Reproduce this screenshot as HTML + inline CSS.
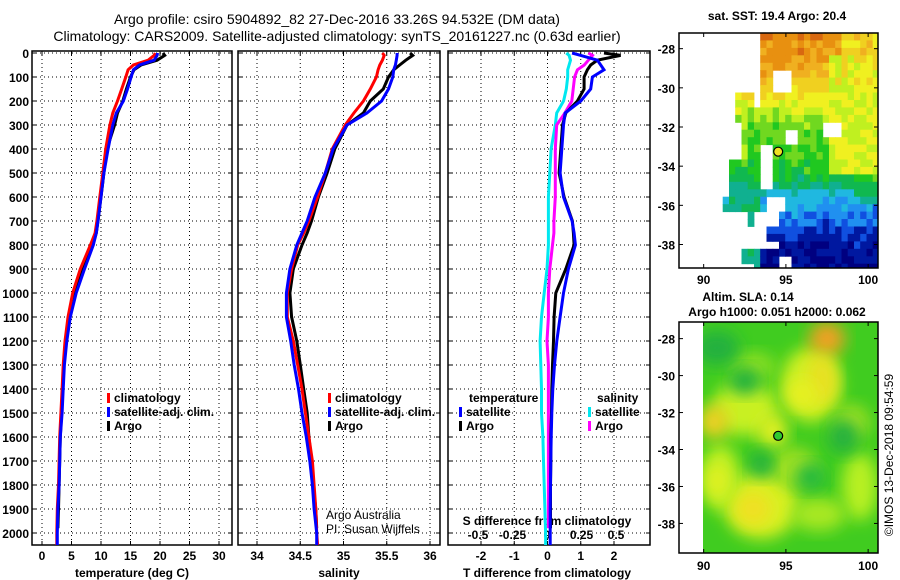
<!DOCTYPE html>
<html><head><meta charset="utf-8"><style>
html,body{margin:0;padding:0;background:#fff;}
svg{display:block;font-family:"Liberation Sans",Arial,sans-serif;}
.tk{font-size:12px;font-weight:bold;fill:#000;}
.tt{font-size:14px;fill:#000;}
</style></head><body>
<svg id="c" width="900" height="580" viewBox="0 0 900 580" xmlns="http://www.w3.org/2000/svg">
<defs>
<filter id="bl" x="-30%" y="-30%" width="160%" height="160%"><feGaussianBlur stdDeviation="8"/></filter>
<clipPath id="clipA"><rect x="703" y="322" width="175" height="231"/></clipPath>
<clipPath id="clipS"><rect x="679" y="33" width="199" height="235"/></clipPath>
</defs>
<text class="tt" x="337" y="24" text-anchor="middle">Argo profile: csiro 5904892_82 27-Dec-2016 33.26S 94.532E (DM data)</text>
<text class="tt" x="337" y="41" text-anchor="middle">Climatology: CARS2009. Satellite-adjusted climatology: synTS_20161227.nc (0.63d earlier)</text>
<g id="g"></g>
</svg>
<script>
// depth levels (m)
const depthT = [0,10,30,50,70,100,150,200,250,300,400,500,600,700,750,800,900,1000,1100,1200,1300,1400,1500,1600,1700,1800,1900,2000,2050];
const tempClim = [19.2,19.0,18.0,15.5,14.6,14.2,13.5,12.8,12.0,11.5,10.8,10.3,9.8,9.3,9.0,8.2,6.5,5.2,4.4,3.9,3.6,3.4,3.2,3.0,2.9,2.8,2.6,2.5,2.5];
const tempSat  = [19.6,19.5,19.0,16.5,15.5,15.1,14.5,13.8,12.6,12.0,11.2,10.5,10.0,9.5,9.2,8.7,7.2,5.8,4.8,4.2,3.8,3.6,3.4,3.1,3.0,2.9,2.7,2.6,2.6];
const depthArgo = [0,10,30,50,70,100,150,200,250,300,400,500,600,700,750,800,900,1000,1100,1200,1300,1400,1500,1600,1700,1800,1900,1980];
const tempArgo = [20.5,20.8,19.5,16.8,15.6,15.0,14.3,13.7,12.8,12.3,11.0,10.5,10.0,9.5,9.2,8.6,7.0,5.5,4.6,4.1,3.7,3.5,3.3,3.1,3.0,2.9,2.8,2.7];
const salClim = [35.45,35.47,35.45,35.42,35.4,35.38,35.31,35.23,35.12,35.02,34.87,34.79,34.7,34.6,34.54,34.47,34.4,34.35,34.35,34.42,34.47,34.52,34.56,34.6,34.64,34.66,34.68,34.69,34.7];
const salSat  = [35.62,35.62,35.61,35.6,35.58,35.57,35.52,35.44,35.27,35.04,34.88,34.79,34.67,34.58,34.52,34.46,34.38,34.34,34.34,34.39,34.43,34.48,34.52,34.57,34.61,34.64,34.66,34.69,34.69];
const salArgo = [35.77,35.8,35.72,35.65,35.58,35.52,35.46,35.31,35.23,35.04,34.9,34.81,34.71,34.63,34.58,34.52,34.42,34.38,34.4,34.46,34.5,34.54,34.58,34.6,34.63,34.65,34.68,34.69];
const dTsat  = [0.74,1.0,1.5,1.6,1.7,1.35,1.3,1.0,0.53,0.48,0.43,0.38,0.48,0.74,0.8,0.84,0.63,0.48,0.38,0.28,0.21,0.16,0.13,0.11,0.1,0.09,0.08,0.08,0.08];
const dTargo = [1.7,2.2,1.5,1.3,1.2,1.1,1.1,0.9,0.55,0.45,0.4,0.35,0.5,0.75,0.78,0.8,0.55,0.25,0.2,0.18,0.15,0.13,0.12,0.1,0.1,0.09,0.09,0.09];
const dSsat  = [0.14,0.16,0.17,0.16,0.15,0.15,0.14,0.12,0.07,0.06,0.03,0.02,0.01,0.01,0.01,0.01,0.0,-0.02,-0.04,-0.05,-0.045,-0.04,-0.04,-0.03,-0.025,-0.02,-0.015,-0.01,-0.01];
const dSargo = [0.3,0.33,0.3,0.27,0.22,0.2,0.19,0.18,0.13,0.07,0.06,0.06,0.06,0.05,0.05,0.04,0.02,0.01,0.01,0.0,0.01,0.01,0.01,0.01,0.01,0.01,0.01,0.01];
const depthTicks = [0,100,200,300,400,500,600,700,800,900,1000,1100,1200,1300,1400,1500,1600,1700,1800,1900,2000];
const tempTicks = [0,5,10,15,20,25,30];
const salTicks = [34,34.5,35,35.5,36];
const dTTicks = [-2,-1,0,1,2];
const dSTicks = [-0.5,-0.25,0,0.25,0.5];
const dSTickLabels = ["-0.5","-0.25","0","0.25","0.5"];
const latTicks = [-28,-30,-32,-34,-36,-38];
const lonTicks = [90,95,100];

const NS="http://www.w3.org/2000/svg";
const G=document.getElementById('g');
function mk(tag,attrs,parent){const e=document.createElementNS(NS,tag);for(const k in attrs)e.setAttribute(k,attrs[k]);(parent||G).appendChild(e);return e;}
const Y0=51,Y1=545;
function yD(d){return 53+(d/2000)*480;}
function lin(d0,d1,r0,r1){return v=>r0+(v-d0)/(d1-d0)*(r1-r0);}
const xT=lin(0,30,42,219), xS=lin(34,36,257,430), xdT=lin(-2,2,481,614), xdS=lin(-0.5,0.5,478,616);
const panels=[{x0:32,x1:232,name:'temperature-panel'},{x0:238,x1:440,name:'salinity-panel'},{x0:448,x1:650,name:'difference-panel'}];

function frame(p,vticks,vx){
  const g=mk('g',{});
  
  
  vticks.forEach(v=>{const x=vx(v);const l=mk('line',{x1:x,x2:x,y1:Y0,y2:Y1,stroke:'#000','stroke-width':1,'stroke-dasharray':'1,3'},g);
    
    mk('line',{x1:x,x2:x,y1:Y1,y2:Y1-4,stroke:'#000'},g);mk('line',{x1:x,x2:x,y1:Y0,y2:Y0+4,stroke:'#000'},g);});
  depthTicks.forEach(d=>{const y=yD(d);const l=mk('line',{x1:p.x0,x2:p.x1,y1:y,y2:y,stroke:'#000','stroke-width':1,'stroke-dasharray':'1,3'},g);
    
    mk('line',{x1:p.x0,x2:p.x0+4,y1:y,y2:y,stroke:'#000'},g);mk('line',{x1:p.x1,x2:p.x1-4,y1:y,y2:y,stroke:'#000'},g);});
  const r=mk('rect',{x:p.x0,y:Y0,width:p.x1-p.x0,height:Y1-Y0,fill:'none',stroke:'#000','stroke-width':1.5},g);
  
  return g;
}
function line(xs,ds,xf,col,name,g){
  let d='';xs.forEach((v,i)=>{d+=(i?'L':'M')+xf(v).toFixed(1)+','+yD(ds[i]).toFixed(1);});
  const p=mk('path',{d:d,fill:'none',stroke:col,'stroke-width':3,'stroke-linejoin':'miter'},g);
  
}
function txt(s,x,y,cls,anchor,g,name,extra){const t=mk('text',Object.assign({x:x,y:y,class:cls,'text-anchor':anchor||'middle'},extra||{}),g);t.textContent=s;return t;}
function legend(g,x,y,col,label,name){const m=mk('rect',{x:x,y:y-9,width:3,height:10,fill:col},g);
  const t=txt(label,x+7,y,'tk','start',g,name);}

// Panel 1
let g1=frame(panels[0],tempTicks,xT);
depthTicks.forEach(d=>txt(String(d),29,yD(d)+5,'tk','end',g1,'y-tick-label'));
tempTicks.forEach(v=>txt(String(v),xT(v),560,'tk','middle',g1,'x-tick-label'));
txt('temperature (deg C)',132,577,'tk','middle',g1,'x-axis-title');
line(tempArgo,depthArgo,xT,'#000','argo-temperature-line',g1);
line(tempClim,depthT,xT,'#f00','climatology-temperature-line',g1);
line(tempSat,depthT,xT,'#00f','satellite-temperature-line',g1);
legend(g1,107,402,'#f00','climatology','legend-climatology');
legend(g1,107,416,'#00f','satellite-adj. clim.','legend-satellite');
legend(g1,107,430,'#000','Argo','legend-argo');

// Panel 2
let g2=frame(panels[1],salTicks,xS);
salTicks.forEach(v=>txt(String(v),xS(v),560,'tk','middle',g2,'x-tick-label'));
txt('salinity',339,577,'tk','middle',g2,'x-axis-title');
line(salArgo,depthArgo,xS,'#000','argo-salinity-line',g2);
line(salClim,depthT,xS,'#f00','climatology-salinity-line',g2);
line(salSat,depthT,xS,'#00f','satellite-salinity-line',g2);
legend(g2,328,402,'#f00','climatology','legend-climatology');
legend(g2,328,416,'#00f','satellite-adj. clim.','legend-satellite');
legend(g2,328,430,'#000','Argo','legend-argo');
txt('Argo Australia',326,519,'tk','start',g2,'credit-argo-australia',{style:'font-weight:normal'});
txt('PI: Susan Wijffels',326,533,'tk','start',g2,'credit-pi',{style:'font-weight:normal'});

// Panel 3
let g3=frame(panels[2],dTTicks,xdT);
dTTicks.forEach(v=>txt(String(v),xdT(v),560,'tk','middle',g3,'x-tick-label'));
txt('T difference from climatology',547,577,'tk','middle',g3,'x-axis-title');
dSTicks.forEach((v,i)=>txt(dSTickLabels[i],xdS(v),539,'tk','middle',g3,'s-tick-label'));
txt('S difference from climatology',547,525,'tk','middle',g3,'s-axis-title');
line(dSsat,depthT,xdS,'#00e8f0','satellite-salinity-diff-line',g3);
line(dSargo,depthArgo,xdS,'#f0f','argo-salinity-diff-line',g3);
line(dTargo,depthArgo,xdT,'#000','argo-temperature-diff-line',g3);
line(dTsat,depthT,xdT,'#00f','satellite-temperature-diff-line',g3);
txt('temperature',469,402,'tk','start',g3,'legend-temperature-heading');
txt('salinity',597,402,'tk','start',g3,'legend-salinity-heading');
legend(g3,459,416,'#00f','satellite','legend-t-satellite');
legend(g3,459,430,'#000','Argo','legend-t-argo');
legend(g3,588,416,'#00e8f0','satellite','legend-s-satellite');
legend(g3,588,430,'#f0f','Argo','legend-s-argo');

// Maps
function mapAxes(x0,x1,y0,y1,lat0,lat1,lon0,lon1,name){
  const fx=lin(lon0,lon1,x0,x1), fy=lin(lat0,lat1,y0,y1);
  const g=mk('g',{});
  return {g,fx,fy,x0,x1,y0,y1};
}
function mapFrame(m,lblY){
  const r=mk('rect',{x:m.x0,y:m.y0,width:m.x1-m.x0,height:m.y1-m.y0,fill:'none',stroke:'#000','stroke-width':1.5},m.g);
  
  latTicks.forEach(v=>{const y=m.fy(v);mk('line',{x1:m.x0,x2:m.x0+4,y1:y,y2:y,stroke:'#000'},m.g);mk('line',{x1:m.x1,x2:m.x1-4,y1:y,y2:y,stroke:'#000'},m.g);
    txt(String(v),m.x0-4,y+5,'tk','end',m.g,'lat-tick-label');});
  lonTicks.forEach(v=>{const x=m.fx(v);mk('line',{x1:x,x2:x,y1:m.y1,y2:m.y1-4,stroke:'#000'},m.g);mk('line',{x1:x,x2:x,y1:m.y0,y2:m.y0+4,stroke:'#000'},m.g);
    txt(String(v),x,lblY,'tk','middle',m.g,'lon-tick-label');});
}
// SST map (image texture)
const M1=mapAxes(679,878,33,268,-27.2,-39.2,88.5,100.6,'sst-map');
const pal=['#000080','#0018a0','#1050e0','#2090f0','#20b8e0','#10b090','#10b850','#20c820','#70d820','#c0f020','#f0f020','#f0d020','#f0b020','#e89010','#d86810'];
const latBase=[[-27.2,13.5],[-28.5,12.6],[-29.5,11.6],[-30.5,10.2],[-31.5,8.5],[-32.5,7.5],[-34,7],[-34.8,6],[-35.5,4],[-36.3,3],[-37,2.2],[-37.8,1],[-39.2,0.2]];
function baseAt(lat){for(let i=0;i<latBase.length-1;i++){const a=latBase[i],b=latBase[i+1];if(lat<=a[0]&&lat>=b[0])return a[1]+(lat-a[0])/(b[0]-a[0])*(b[1]-a[1]);}return 0;}
function hash(i,j){let h=(i*374761393+j*668265263)|0;h=(h^(h>>>13))*1274126177|0;return ((h^(h>>>16))>>>0)/4294967296;}
function hasData(lon,lat){
  if(lon<91)return false;
  if(lat>-29.6&&lon<93.3)return false;
  if(lat>-30.1&&lat<=-29.6&&lon<93.5)return false;
  if(lat>-31&&lat<=-30.1&&(lon<92||(lon>93&&lon<93.6)))return false;
  if(lat>-31&&lon<92)return false;
  if(lat>-31.8&&lat<=-31&&lon<91.9)return false;
  if(lat>-33.5&&lon<92.2&&lat<=-31.8)return false;
  if(lon>=94.2&&lon<95.2&&lat<=-29.2&&lat>-30.3)return false;
  if(lon>=93.3&&lon<94.3&&lat<=-33.6&&lat>-35.1)return false;
  if(lon>=93.6&&lon<94.3&&lat<=-32.9&&lat>-33.6)return false;
  if(lon>=97.3&&lon<98.2&&lat<=-31.7&&lat>-32.6)return false;
  if(lon>=94.8&&lon<95.8&&lat<=-32.3&&lat>-32.9)return false;
  if(lat<=-35.6&&lon<95&&lat>-38.3){
    if(lon>=91&&lon<93.2&&lat>-36.5)return true;
    if(lon>=92.5&&lon<93.2&&lat>-36.9)return true;
    if(lon>=94.7&&lat<-36.2)return true;
    if(lon>=93.8&&lon<94.6&&lat<=-36.9&&lat>-37.7)return true;
    if(lon>=94.2&&lon<95&&lat>-36.3)return false;
    if(lon>=93.2&&lon<94&&lat<=-35.6&&lat>-36.3)return true;
    return false;
  }
  if(lat<=-38.3&&lon<93)return lon>=92.2&&lat>-39;
  if(lat<=-34.8&&lat>-35.6&&lon<91.5)return false;
  if(lat<=-33.5&&lon<91.5&&lat>-34.8)return lon>=91.5;
  if(lon>=94.5&&lon<95.3&&lat<=-38.6&&lat>-39.2)return false;
  return true;
}
const gs=mk('g',{'clip-path':'url(#clipS)'},M1.g);
const step=0.38;
for(let lon=88.5,i=0;lon<100.7;lon+=step,i++){
  for(let lat=-27.2,j=0;lat>-39.3;lat-=step,j++){
    const cl=lon+step/2,ct=lat-step/2;
    if(!hasData(cl,ct))continue;
    let v=baseAt(ct);
    if(cl>97.5&&ct>-34.5&&ct<-28.5)v=9.4+(ct>-30?0.6:0);
    if(cl>98.5&&ct>=-28.5)v=Math.min(v,10.8);
    if(cl>99&&ct<-34.5&&ct>-36)v+=1;
    if(cl<93.5&&ct<-33.5)v=Math.max(v,5.3);
    if(cl<92.5&&ct>-33.5&&ct<-30)v=Math.max(v,8.6);
    v+=(hash(i,j)-0.5)*1.7;
    const idx=Math.max(0,Math.min(pal.length-1,Math.round(v)));
    const r=mk('rect',{x:M1.fx(lon).toFixed(1),y:M1.fy(lat).toFixed(1),width:(M1.fx(lon+step)-M1.fx(lon)+0.5).toFixed(1),height:(M1.fy(lat-step)-M1.fy(lat)+0.5).toFixed(1),fill:pal[idx]},gs);
    
    
  }
}
let dot1=mk('circle',{cx:M1.fx(94.53),cy:M1.fy(-33.26),r:4.5,fill:'#f0e020',stroke:'#000','stroke-width':1.2},M1.g);

mapFrame(M1,284);
txt('sat. SST: 19.4 Argo: 20.4',777,20,'tk','middle',M1.g,'sst-map-title');

// Altimetry map
const M2=mapAxes(679,878,322,553,-27.1,-39.6,88.5,100.6,'sla-map');
const ga=mk('g',{'clip-path':'url(#clipA)'},M2.g);
mk('rect',{x:703,y:322,width:175,height:231,fill:'#40cc20'},ga);
const blobs=[[92.5,-31.8,2.2,1.6,'#c8f020'],[93.5,-37,2.5,2,'#d8f020'],[91,-35.5,1.3,2,'#c0f020'],[96.5,-30.5,2,2.2,'#d0f020'],[95.5,-35,1.5,1.2,'#a0e020'],
 [99.5,-36,1.2,2,'#b8f020'],[97,-37.5,1.8,1,'#a8e820'],[93,-29.5,1.5,0.8,'#90e020'],[99,-32.5,1.2,1,'#a0e020'],
 [97.5,-28,1.2,1.0,'#f0a020'],[97.2,-30.2,1.0,1.5,'#e8e020'],[90.6,-32.5,1.0,1.0,'#f0d020'],[93,-37.2,1.2,1.0,'#f0e020'],[94.2,-33,1.0,1.0,'#e0f020'],
 [90.8,-35.7,0.8,1.0,'#e0f020'],[96,-31,1.0,0.8,'#e8f020'],
 [92.5,-30.3,1,0.8,'#20b040'],[98.5,-33.3,1,1,'#20b040'],[93.5,-34.8,0.8,0.8,'#20b040'],[96.5,-35.5,1,0.8,'#20b840'],[90.8,-28.5,1.5,1,'#20b040']];
blobs.forEach(b=>{const e=mk('ellipse',{cx:M2.fx(b[0]),cy:M2.fy(b[1]),rx:b[2]*15,ry:b[3]*17,fill:b[4],filter:'url(#bl)'},ga);});
let dot2=mk('circle',{cx:M2.fx(94.53),cy:M2.fy(-33.26),r:4.5,fill:'#30c830',stroke:'#000','stroke-width':1.2},M2.g);

mapFrame(M2,570);
txt('Altim. SLA: 0.14',748,301,'tk','middle',M2.g,'sla-map-title');
txt('Argo h1000: 0.051 h2000: 0.062',777,316,'tk','middle',M2.g,'sla-map-subtitle');
txt('©IMOS 13-Dec-2018 09:54:59',893,455,'tk','middle',M2.g,'copyright',{transform:'rotate(-90 893 455)',style:'font-weight:normal'});
</script>
</body></html>
